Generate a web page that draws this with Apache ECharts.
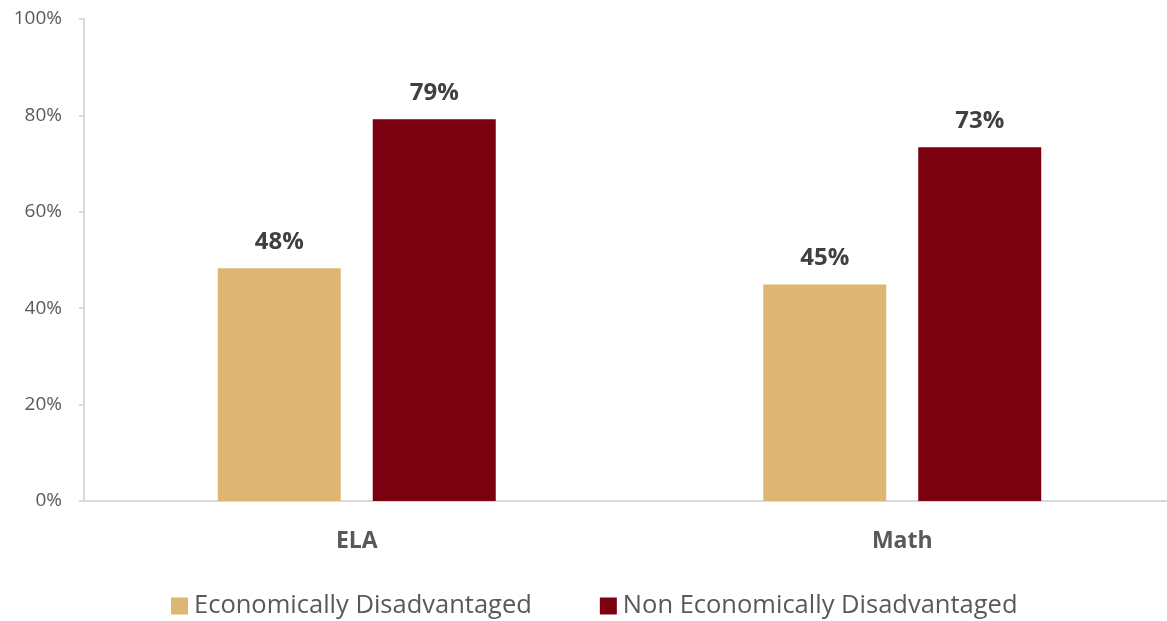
<!DOCTYPE html>
<html><head><meta charset="utf-8">
<script src="https://cdn.jsdelivr.net/npm/echarts@6/dist/echarts.min.js"></script>
<style>html,body{margin:0;padding:0;background:#fff}#c{width:1167px;height:621px}</style>
</head><body><div id="c"></div>
<script>
const categories = ["ELA", "Math"];
const econDis = [48.3, 44.9];
const nonEconDis = [79.2, 73.4];
const seriesNames = ["Economically Disadvantaged", "Non Economically Disadvantaged"];
const yTicks = [0, 20, 40, 60, 80, 100];

const chart = echarts.init(document.getElementById('c'));
const font = '"Open Sans", sans-serif';
chart.setOption({
  animation: false,
  grid: { left: 84, width: 1091, top: 19, bottom: 120, outerBoundsMode: 'none', containLabel: false },
  legend: {
    bottom: -3, left: 166,
    itemWidth: 17, itemHeight: 17, itemGap: 68,
    icon: 'rect',
    textStyle: { fontFamily: font, fontSize: 25.5, color: '#595959', padding: [0,0,0,1] },
    data: seriesNames
  },
  xAxis: {
    type: 'category', data: categories,
    axisLine: { lineStyle: { color: '#d9d9d9', width: 2 } },
    axisTick: { show: false },
    axisLabel: { fontFamily: font, fontSize: 23, fontWeight: 'bold', color: '#595959', margin: 29 }
  },
  yAxis: {
    type: 'value', min: 0, max: 100, interval: 20,
    axisLine: { show: true, lineStyle: { color: '#d9d9d9', width: 2 } },
    axisTick: { show: true, length: 5, lineStyle: { color: '#d9d9d9', width: 2 } },
    splitLine: { show: false },
    axisLabel: { fontFamily: font, fontSize: 19, color: '#595959', margin: 22,
      formatter: v => yTicks.includes(v) ? v + '%' : '' }
  },
  series: [
    { name: seriesNames[0], type: 'bar', data: econDis, barWidth: 123, barGap: '26%',
      itemStyle: { color: '#DEB673' },
      label: { show: true, position: 'top', distance: 14, fontFamily: font, fontSize: 24, fontWeight: 'bold', color: '#404040',
        formatter: p => Math.round(p.value) + '%' } },
    { name: seriesNames[1], type: 'bar', data: nonEconDis, barWidth: 123, barGap: '26%',
      itemStyle: { color: '#7B0010' },
      label: { show: true, position: 'top', distance: 14, fontFamily: font, fontSize: 24, fontWeight: 'bold', color: '#404040',
        formatter: p => Math.round(p.value) + '%' } }
  ]
});
</script></body></html>
